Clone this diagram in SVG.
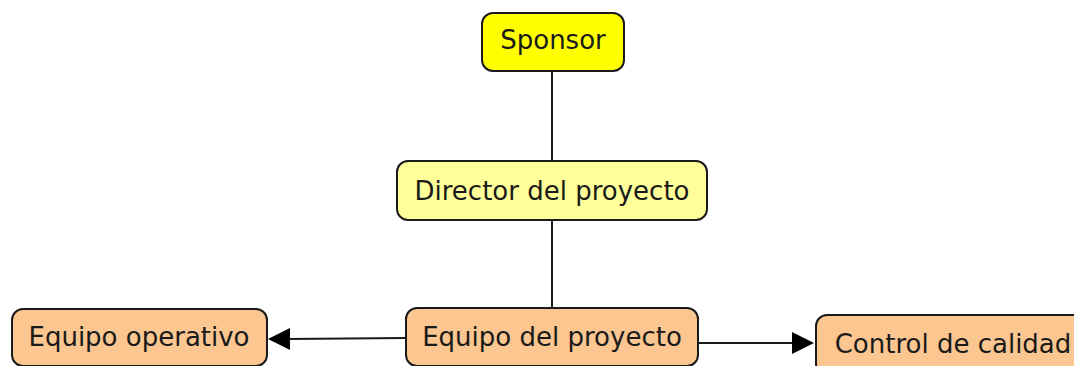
<svg xmlns="http://www.w3.org/2000/svg" width="1074" height="366" viewBox="0 0 1074 366">
<defs>
<style>
.box{stroke:#1a1a1a;stroke-width:2}
.t{font-family:"DejaVu Sans",Verdana,sans-serif;font-size:26px;fill:#1a1a1a;text-anchor:middle}
.c{stroke:#1a1a1a;stroke-width:2;fill:none}
.ah{fill:#000}
</style>
</defs>
<rect width="1074" height="366" fill="#fff"/>
<g id="connectors">
<line class="c" x1="552" y1="71" x2="552" y2="161"/>
<line class="c" x1="552" y1="220" x2="552" y2="308"/>
<path class="c" d="M406,338 L288,339"/>
<path class="c" d="M698,343 L794,343"/>
<polygon class="ah" points="792,332 814,343 792,354"/>
<polygon class="ah" points="290,328 268,339 290,350"/>
</g>
<g id="sponsor">
<rect class="box" x="482" y="13" width="142" height="58" rx="11" fill="#ffff00"/>
<text class="t" x="553" y="49">Sponsor</text>
</g>
<g id="director">
<rect class="box" x="397" y="161" width="310" height="59" rx="11" fill="#ffff99"/>
<text class="t" x="552" y="200">Director del proyecto</text>
</g>
<g id="equipo-proyecto">
<rect class="box" x="406" y="308" width="292" height="58" rx="11" fill="#fbc690"/>
<text class="t" x="552" y="346">Equipo del proyecto</text>
</g>
<g id="equipo-operativo">
<rect class="box" x="12" y="309" width="255" height="57" rx="11" fill="#fbc690"/>
<text class="t" x="139" y="346">Equipo operativo</text>
</g>
<g id="control-calidad">
<rect class="box" x="816" y="315" width="270" height="60" rx="11" fill="#fbc690"/>
<text class="t" x="953" y="353">Control de calidad</text>
</g>
</svg>
